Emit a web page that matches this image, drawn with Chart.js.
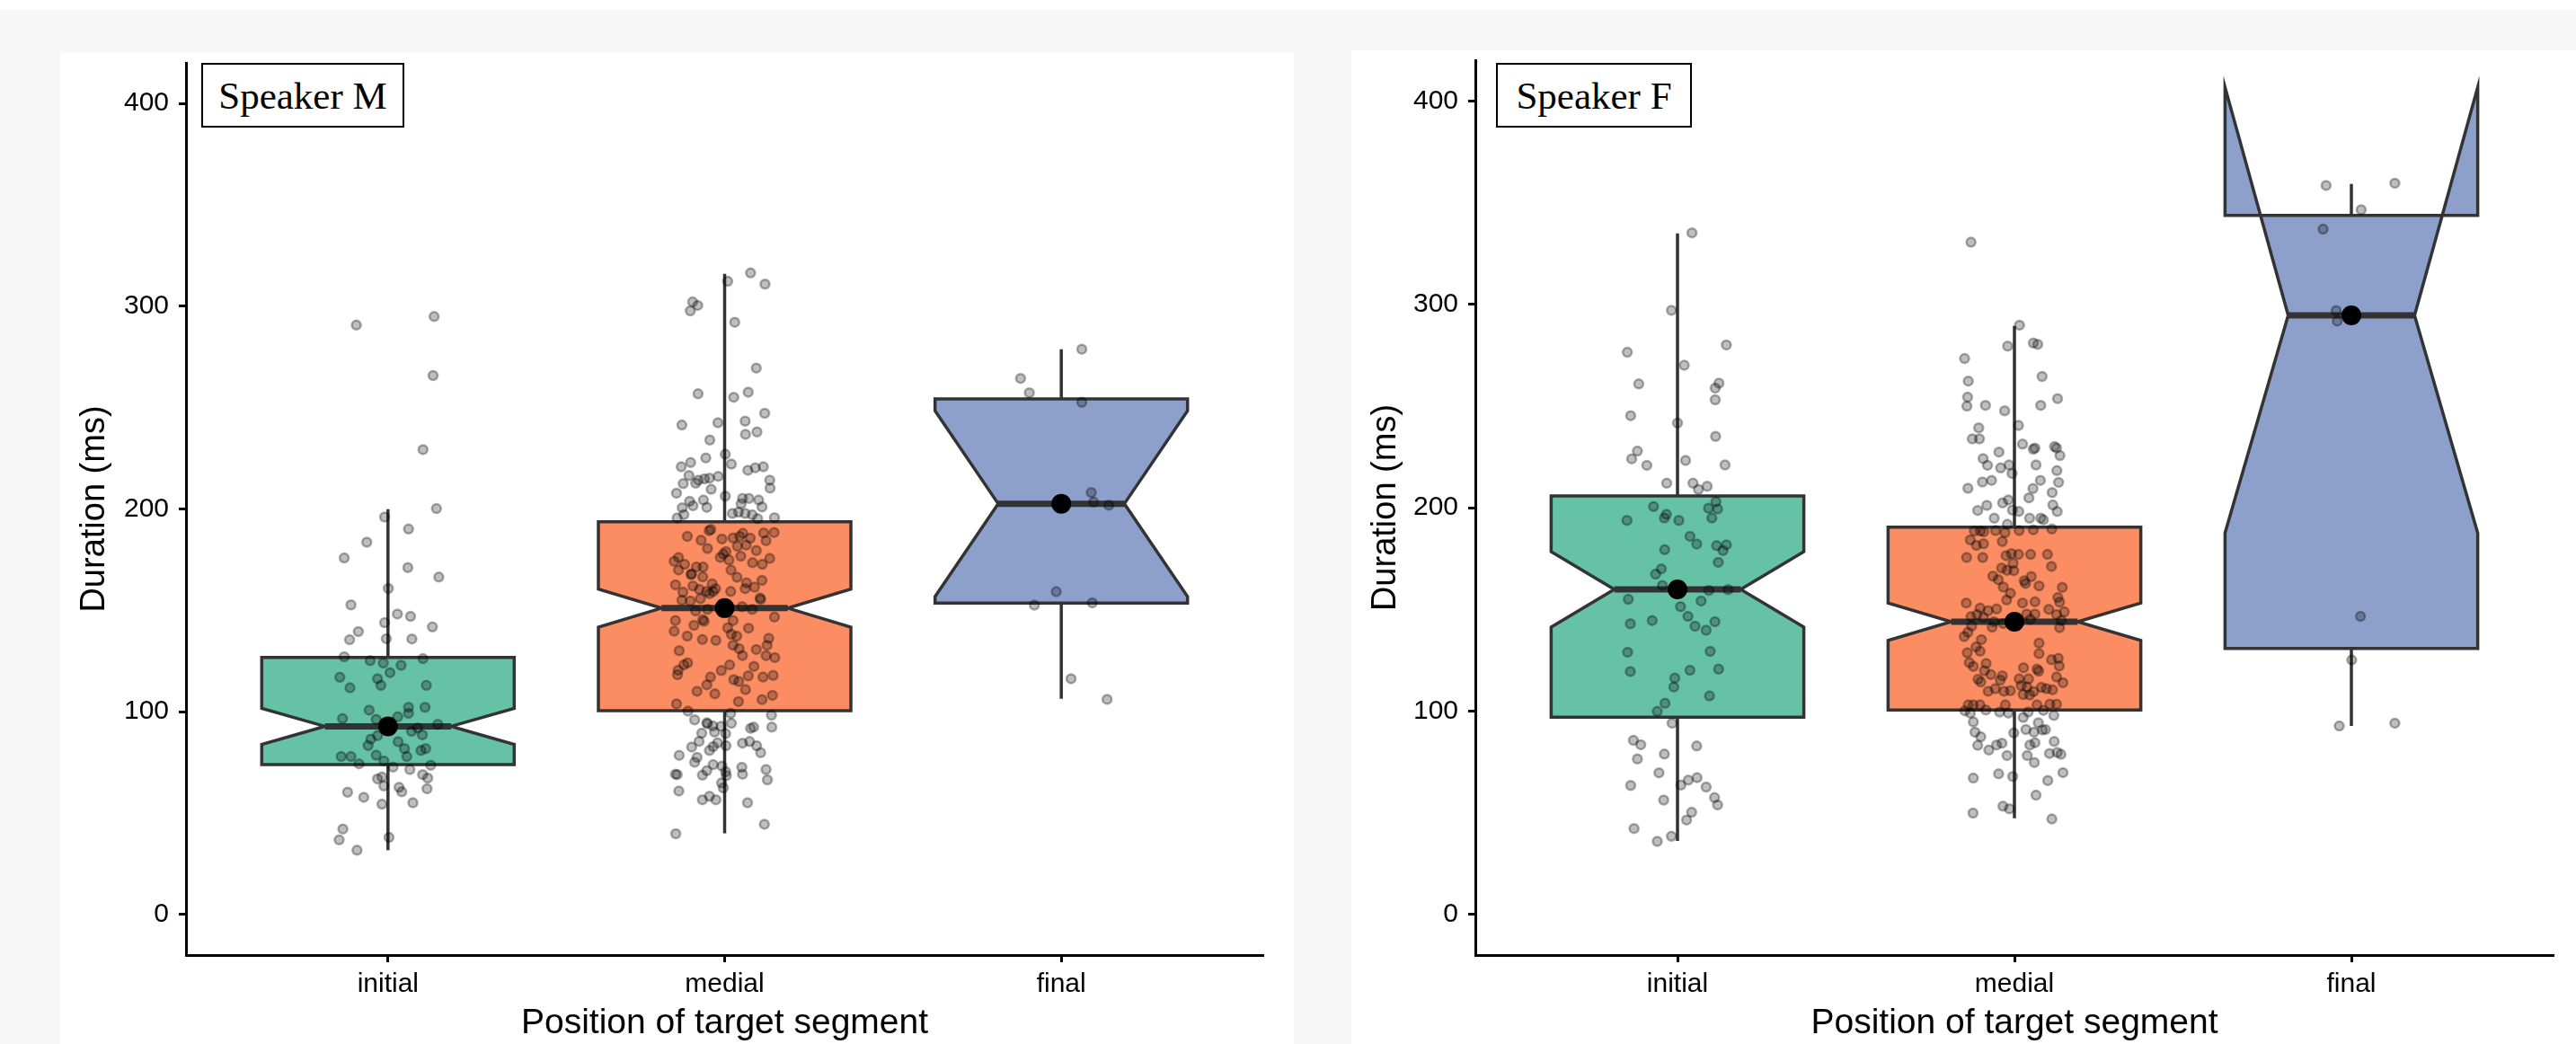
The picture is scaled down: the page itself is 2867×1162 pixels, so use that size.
<!DOCTYPE html>
<html>
<head>
<meta charset="utf-8">
<script src="https://cdn.jsdelivr.net/npm/chart.js@4.4.1/dist/chart.umd.min.js"></script>
<style>
  html, body { margin: 0; padding: 0; }
  body {
    width: 2867px; height: 1162px; overflow: hidden; position: relative;
    background: #f7f7f7;
  }
  .strip { position: absolute; left: 0; top: 0; width: 2867px; height: 11px; background: #fff; }
  .panel { position: absolute; background: #fff; }
  #panelM { left: 67px; top: 59px; width: 1373px; height: 1103px; }
  #panelF { left: 1504px; top: 56px; width: 1363px; height: 1106px; }
  .panel canvas { position: absolute; left: 0; top: 0; }
  .tag {
    position: absolute; box-sizing: border-box; border: 2px solid #000; background: #fff;
    display: flex; align-items: center; justify-content: center;
    font-family: "Liberation Serif", "Times New Roman", serif; font-size: 43px; color: #000;
  }
</style>
</head>
<body>
<div class="strip"></div>
<div class="panel" id="panelM"><canvas id="chartM" width="1373" height="1103"></canvas></div>
<div class="panel" id="panelF"><canvas id="chartF" width="1363" height="1106"></canvas></div>
<div class="tag" style="left:224px; top:70px; width:226px; height:72px;">Speaker M</div>
<div class="tag" style="left:1665px; top:70px; width:218px; height:72px;">Speaker F</div>

<script>
// categories and ticks
const categories = ["initial", "medial", "final"];
const yTicks = [0, 100, 200, 300, 400];

// box stats: [lower whisker, Q1, notch low, median, notch high, Q3, upper whisker]
const boxStatsM = [
  [31.7, 73.9, 83.9, 92.8, 101.7, 126.8, 199.9],
  [40.0, 100.5, 141.7, 151.1, 160.5, 193.7, 316.0],
  [106.4, 153.6, 156.8, 202.6, 248.4, 254.3, 278.8]
];
const boxStatsF = [
  [36.1, 97.0, 141.2, 159.8, 178.4, 205.7, 334.8],
  [47.3, 100.5, 134.7, 143.9, 153.1, 190.4, 289.3],
  [92.6, 130.7, 187.5, 294.5, 406.7, 343.7, 359.1]
];

// jittered observations: [horizontal jitter (category units), duration ms]
const mInitial = [
  [-0.094,290.7],[0.137,294.9],[0.134,265.8],[0.104,229.3],[0.144,200.2],[-0.010,196.0],[0.061,190.1],[-0.063,183.6],
  [-0.130,175.8],[0.059,171.1],[0.151,166.4],[0.001,160.8],[-0.110,152.7],[0.028,148.2],[0.067,147.0],[-0.010,143.9],
  [0.132,141.8],[-0.088,139.5],[-0.114,135.5],[-0.005,136.0],[0.071,135.9],[-0.130,127.1],[-0.053,125.2],[-0.014,124.0],
  [0.006,119.3],[0.039,122.9],[0.104,126.2],[-0.143,117.0],[-0.031,116.3],[-0.021,113.0],[-0.113,111.8],[0.114,113.0],
  [-0.056,100.8],[0.061,102.2],[0.110,102.2],[-0.135,96.6],[-0.035,96.2],[0.061,99.2],[0.029,97.5],[0.148,93.8],
  [0.070,90.3],[0.088,92.0],[0.102,88.6],[-0.051,86.5],[-0.031,88.2],[-0.059,83.3],[0.030,85.2],[0.049,81.8],
  [0.098,80.9],[0.112,81.8],[-0.139,77.9],[-0.110,77.9],[-0.035,78.6],[0.056,77.9],[-0.086,74.3],[-0.012,75.7],
  [0.015,72.7],[0.127,73.6],[0.065,71.5],[-0.031,66.9],[-0.018,67.8],[-0.012,63.4],[0.103,69.0],[0.118,67.3],
  [0.033,62.7],[0.041,60.5],[0.116,62.0],[-0.120,60.3],[-0.072,57.8],[-0.018,54.4],[0.074,55.1],[-0.134,42.2],
  [-0.145,36.8],[0.003,38.0],[-0.092,31.7]
];
const mMedial = [
  [0.009,312.3],[0.077,316.4],[0.120,310.9],[-0.095,302.1],[-0.080,300.4],[-0.102,297.7],[0.030,292.1],[0.094,269.5],
  [-0.079,256.8],[0.027,255.1],[0.070,257.6],[0.119,247.2],[-0.127,241.4],[-0.020,242.5],[0.061,243.3],[0.062,236.8],
  [0.096,238.0],[-0.044,234.0],[0.002,227.0],[-0.101,222.9],[-0.056,225.2],[-0.129,220.8],[0.020,222.1],[-0.106,216.5],
  [-0.078,214.2],[-0.045,215.2],[-0.019,216.1],[0.069,219.1],[0.091,220.3],[0.115,220.8],[-0.123,212.5],[-0.086,212.7],
  [-0.060,214.8],[0.134,214.2],[0.135,210.3],[-0.143,207.8],[-0.040,209.7],[0.002,206.3],[-0.104,203.8],[-0.063,204.4],
  [0.053,205.2],[0.072,205.2],[0.101,204.4],[-0.126,200.6],[-0.094,201.6],[-0.053,200.8],[0.049,202.5],[0.111,201.0],
  [-0.141,195.6],[-0.121,197.2],[0.023,197.8],[0.041,198.4],[0.061,197.8],[0.082,197.1],[0.098,195.2],[0.148,195.7],
  [-0.041,189.9],[-0.046,189.3],[-0.111,186.5],[-0.070,184.6],[-0.008,185.2],[0.025,185.7],[0.045,186.5],[0.054,188.0],
  [0.076,185.6],[0.116,188.2],[0.147,188.4],[-0.051,180.5],[0.004,179.0],[-0.004,177.8],[0.038,181.6],[0.064,182.2],
  [0.094,179.5],[0.123,184.4],[-0.137,176.1],[-0.150,174.2],[-0.119,172.7],[-0.013,176.1],[0.013,174.8],[0.048,176.7],
  [0.083,173.5],[0.112,172.7],[0.134,175.6],[-0.137,169.9],[-0.098,168.0],[-0.064,171.4],[-0.084,171.4],[0.019,169.9],
  [-0.065,166.5],[-0.100,167.6],[-0.037,163.1],[0.037,166.3],[0.065,163.5],[0.111,164.8],[-0.146,162.6],[-0.094,162.0],
  [-0.075,160.3],[-0.054,159.3],[-0.027,160.7],[0.018,159.3],[0.061,160.7],[0.089,161.4],[-0.124,159.0],[-0.127,155.0],
  [-0.102,154.6],[-0.072,155.8],[-0.045,158.2],[-0.034,159.3],[0.105,156.1],[0.107,155.4],[-0.007,152.6],[0.052,151.8],
  [0.082,150.5],[-0.086,149.7],[-0.051,150.5],[-0.061,144.6],[-0.065,145.4],[-0.091,142.6],[-0.146,145.0],[-0.150,139.7],
  [-0.111,137.3],[-0.066,135.6],[-0.026,135.2],[0.009,141.4],[0.025,145.0],[0.071,141.2],[0.148,146.7],[0.020,138.2],
  [0.036,137.3],[0.131,136.2],[0.126,132.8],[-0.135,130.1],[0.025,132.8],[0.043,131.1],[0.053,127.7],[0.094,130.7],
  [0.123,127.7],[0.149,126.7],[-0.121,123.1],[-0.110,124.1],[-0.138,120.5],[-0.140,118.2],[-0.010,120.3],[0.015,123.1],
  [0.087,122.4],[0.114,117.1],[0.144,117.9],[-0.082,110.1],[-0.053,113.3],[-0.042,117.1],[0.027,115.8],[0.042,114.9],
  [0.062,110.9],[0.070,117.7],[-0.029,108.8],[-0.143,103.9],[0.041,105.0],[0.111,106.0],[0.142,108.1],[-0.109,100.3],
  [-0.089,96.0],[-0.053,94.5],[-0.051,94.1],[-0.035,93.0],[0.018,99.2],[0.020,94.3],[0.139,98.3],[0.140,92.4],
  [-0.068,89.4],[-0.030,90.0],[-0.011,92.8],[0.003,89.2],[0.077,91.8],[0.086,92.4],[-0.098,82.6],[-0.076,85.4],
  [-0.045,80.9],[-0.034,82.8],[-0.021,84.7],[0.004,83.2],[0.053,84.5],[0.074,85.3],[0.095,83.2],[0.107,79.8],
  [-0.135,78.5],[-0.089,75.1],[-0.082,77.5],[-0.146,69.2],[-0.141,69.0],[-0.066,68.7],[-0.053,70.9],[-0.034,73.9],
  [-0.008,73.2],[0.003,70.4],[0.005,68.5],[0.051,72.6],[0.053,69.2],[0.123,71.5],[0.127,66.4],[-0.009,64.9],
  [-0.004,62.4],[-0.136,60.9],[-0.066,56.6],[-0.045,58.3],[-0.026,56.6],[0.068,55.1],[0.118,44.5],[-0.145,39.8]
];
const mFinal = [
  [-0.121,264.4],[-0.095,257.3],[0.061,278.8],[0.061,252.6],[0.089,208.1],[0.096,203.4],
  [0.141,201.9],[-0.015,159.2],[-0.080,152.6],[0.092,153.7],[0.029,116.3],[0.136,106.1]
];
const fInitial = [
  [0.043,335.1],[-0.018,297.0],[-0.149,276.4],[0.145,280.0],[0.020,270.0],[-0.115,260.8],[0.123,261.2],[0.112,258.8],
  [0.112,253.0],[-0.139,245.2],[0.000,241.6],[0.113,235.0],[-0.119,227.8],[-0.136,224.0],[-0.091,220.8],[0.024,223.2],
  [0.141,221.0],[-0.032,212.0],[0.046,212.0],[0.062,208.9],[0.088,210.5],[0.114,202.9],[0.092,199.7],[0.119,199.3],
  [-0.071,200.5],[-0.033,196.7],[-0.039,194.9],[0.004,193.7],[0.102,194.9],[-0.150,193.7],[0.037,185.9],[0.057,182.1],
  [0.116,181.3],[0.145,181.7],[0.135,178.9],[-0.038,179.3],[0.121,173.1],[-0.048,169.9],[-0.065,167.3],[-0.045,161.7],
  [0.093,159.3],[0.150,159.7],[-0.146,154.9],[0.070,154.1],[0.009,151.3],[-0.140,142.9],[-0.075,144.5],[0.031,146.5],
  [0.052,141.7],[0.085,139.7],[0.111,143.9],[-0.148,128.9],[0.097,129.3],[-0.140,119.4],[0.037,120.0],[0.122,120.6],
  [-0.008,116.2],[-0.011,111.8],[-0.037,103.8],[-0.060,99.8],[0.095,107.4],[-0.016,94.0],[-0.131,85.6],[-0.109,83.4],
  [-0.119,76.4],[-0.039,78.8],[0.057,82.8],[-0.055,69.6],[-0.139,63.4],[0.010,63.6],[0.032,66.0],[0.058,67.2],
  [0.085,62.6],[-0.041,56.2],[0.110,57.4],[0.119,53.8],[0.042,50.2],[0.027,46.4],[-0.129,42.2],[-0.060,35.9],
  [-0.018,38.4]
];
const fMedial = [
  [-0.129,330.5],[0.015,289.7],[-0.020,279.4],[0.056,280.9],[0.069,280.3],[-0.148,273.3],[0.082,264.5],[-0.137,262.2],
  [-0.139,254.3],[-0.141,249.9],[-0.086,250.3],[-0.029,247.6],[0.078,250.3],[0.128,253.6],[0.012,240.4],[-0.106,239.2],
  [-0.125,233.8],[-0.104,233.8],[0.024,231.2],[-0.046,227.3],[0.056,228.7],[0.061,229.3],[0.119,230.0],[0.125,229.3],
  [0.135,225.6],[-0.093,224.1],[-0.080,220.8],[-0.041,219.5],[-0.016,221.0],[-0.007,216.8],[0.064,221.0],[0.126,218.2],
  [-0.138,209.5],[-0.095,212.6],[-0.068,213.4],[0.055,209.4],[0.077,213.4],[0.112,207.4],[0.131,212.4],[0.043,204.8],
  [-0.035,202.3],[-0.018,203.8],[-0.082,201.1],[-0.109,198.6],[-0.006,198.8],[0.013,198.1],[0.114,201.3],[0.127,198.1],
  [-0.060,194.8],[0.045,194.8],[0.078,194.8],[0.086,194.0],[-0.021,191.8],[-0.119,188.5],[-0.101,188.5],[-0.091,188.1],
  [-0.056,188.7],[-0.028,187.7],[0.014,188.7],[0.056,189.1],[0.111,189.5],[-0.131,184.1],[-0.113,181.4],[-0.092,182.2],
  [-0.036,183.3],[-0.142,175.5],[-0.094,175.5],[-0.025,176.4],[-0.009,177.4],[0.012,177.0],[0.048,177.0],[0.098,177.0],
  [0.110,171.1],[-0.038,170.3],[-0.004,172.6],[-0.022,169.2],[-0.002,169.0],[-0.064,166.3],[-0.048,164.6],[0.029,164.0],
  [0.050,166.1],[0.073,161.5],[-0.033,160.9],[-0.012,157.9],[-0.023,154.6],[0.142,160.8],[0.033,162.7],[0.129,155.8],
  [0.134,153.5],[-0.143,153.1],[0.024,153.1],[0.061,153.7],[0.102,150.0],[-0.102,150.6],[-0.078,149.3],[-0.053,150.2],
  [-0.129,146.4],[-0.111,147.4],[-0.092,146.0],[-0.061,143.9],[-0.033,143.0],[0.036,147.7],[0.061,147.7],[0.047,145.1],
  [0.125,147.4],[0.139,144.5],[0.148,148.7],[-0.149,136.6],[-0.138,138.7],[-0.127,141.8],[-0.098,135.1],[-0.114,131.5],
  [-0.066,141.2],[0.134,141.0],[0.073,133.4],[0.073,128.2],[-0.140,128.6],[-0.102,129.4],[-0.134,123.8],[-0.122,121.9],
  [-0.084,123.4],[-0.089,119.8],[-0.070,117.9],[-0.036,117.3],[0.027,121.3],[0.067,120.6],[0.072,119.6],[0.110,125.2],
  [0.130,125.9],[0.133,122.1],[-0.108,115.6],[-0.100,114.3],[-0.042,115.2],[0.014,115.8],[0.020,112.5],[0.037,111.8],
  [0.042,115.8],[0.125,116.7],[0.144,113.9],[0.080,111.6],[0.095,111.0],[0.113,110.4],[-0.078,109.7],[-0.057,111.0],
  [-0.031,109.7],[-0.012,110.0],[0.026,108.1],[0.045,107.9],[0.057,109.5],[-0.137,103.0],[-0.122,103.0],[-0.102,103.0],
  [-0.027,103.0],[0.067,103.0],[0.105,103.4],[0.125,103.4],[-0.147,100.1],[-0.131,99.0],[-0.085,100.5],[-0.044,99.5],
  [-0.018,99.0],[0.041,99.5],[0.086,100.3],[0.117,97.8],[-0.122,94.6],[0.026,96.8],[0.071,94.2],[-0.117,89.6],
  [-0.100,87.3],[-0.002,89.2],[0.034,90.9],[0.058,89.6],[0.083,90.7],[0.092,90.9],[-0.109,83.1],[-0.076,80.8],
  [-0.053,83.3],[-0.037,84.2],[0.046,83.3],[0.061,84.4],[0.118,85.0],[0.127,79.6],[0.138,78.7],[0.104,79.1],
  [-0.022,78.1],[0.038,78.1],[0.059,74.7],[-0.122,67.0],[-0.047,69.1],[-0.005,67.8],[0.099,65.8],[0.144,69.7],
  [0.064,58.6],[-0.034,53.2],[-0.015,51.9],[-0.123,49.8],[0.111,46.9]
];
const fFinal = [
  [-0.075,358.4],[0.129,359.5],[0.029,346.5],[-0.084,336.9],[-0.045,296.9],
  [-0.042,291.7],[0.027,146.5],[0.001,125.1],[-0.036,92.6],[0.129,94.0]
];

const boxFills = ["#66c2a5", "#fc8d62", "#8da0cb"];
const BOX_WIDTH = 0.75;
const NOTCH_WIDTH = 0.5;

Chart.defaults.font.family = '"Liberation Sans", Arial, Helvetica, sans-serif';
Chart.defaults.color = "#000";

// draws ggplot-style notched boxes under the points
const notchedBoxes = (stats) => ({
  id: "notchedBoxes",
  beforeDatasetsDraw(chart) {
    const { ctx, scales: { x, y } } = chart;
    const X = v => x.getPixelForValue(v);
    const Y = v => y.getPixelForValue(v);
    const half = BOX_WIDTH / 2;
    const inner = half * NOTCH_WIDTH;
    ctx.save();
    ctx.strokeStyle = "#333333";
    ctx.lineJoin = "miter";
    stats.forEach((s, i) => {
      const [lo, q1, nLo, med, nHi, q3, hi] = s;
      const c = i + 1;
      // whiskers
      ctx.lineWidth = 3.5;
      ctx.beginPath();
      ctx.moveTo(X(c), Y(hi)); ctx.lineTo(X(c), Y(q3));
      ctx.moveTo(X(c), Y(q1)); ctx.lineTo(X(c), Y(lo));
      ctx.stroke();
      // notched body
      ctx.beginPath();
      ctx.moveTo(X(c - half), Y(q3));
      ctx.lineTo(X(c - half), Y(nHi));
      ctx.lineTo(X(c - inner), Y(med));
      ctx.lineTo(X(c - half), Y(nLo));
      ctx.lineTo(X(c - half), Y(q1));
      ctx.lineTo(X(c + half), Y(q1));
      ctx.lineTo(X(c + half), Y(nLo));
      ctx.lineTo(X(c + inner), Y(med));
      ctx.lineTo(X(c + half), Y(nHi));
      ctx.lineTo(X(c + half), Y(q3));
      ctx.closePath();
      ctx.fillStyle = boxFills[i];
      ctx.fill();
      ctx.stroke();
      // median
      ctx.lineWidth = 7;
      ctx.beginPath();
      ctx.moveTo(X(c - inner), Y(med));
      ctx.lineTo(X(c + inner), Y(med));
      ctx.stroke();
    });
    ctx.restore();
  }
});

const drawPanel = (canvasId, stats, groups, box) => {
  const points = groups.flatMap((g, i) => g.map(([dx, v]) => ({ x: i + 1 + dx, y: v })));
  const centres = stats.map((s, i) => ({ x: i + 1, y: s[3] }));

  new Chart(document.getElementById(canvasId), {
    type: "scatter",
    data: {
      datasets: [
        {
          data: centres,
          order: 0,
          pointRadius: 11,
          pointBackgroundColor: "#000",
          pointBorderWidth: 0
        },
        {
          data: points,
          order: 1,
          pointRadius: 5,
          pointBackgroundColor: "rgba(0, 0, 0, 0.25)",
          pointBorderColor: "rgba(0, 0, 0, 0.32)",
          pointBorderWidth: 2.5
        }
      ]
    },
    options: {
      responsive: false,
      animation: false,
      events: [],
      layout: { padding: { top: box.top, right: box.right, left: 0, bottom: 0 } },
      plugins: {
        legend: { display: false },
        tooltip: { enabled: false }
      },
      scales: {
        x: {
          type: "linear",
          min: 0.4,
          max: 3.6,
          afterBuildTicks: s => { s.ticks = categories.map((_, i) => ({ value: i + 1 })); },
          afterFit: s => { s.height = box.xAxis; s.paddingLeft = 0; s.paddingRight = 0; },
          border: { display: true, color: "#000", width: 3 },
          grid: { display: true, drawOnChartArea: false, drawTicks: true, tickLength: 8, tickWidth: 3, tickColor: "#000" },
          ticks: {
            callback: v => categories[v - 1],
            padding: 10,
            autoSkip: false,
            maxRotation: 0,
            color: "#000",
            font: { size: 30, lineHeight: 1 }
          },
          title: {
            display: true,
            text: "Position of target segment",
            color: "#000",
            font: { size: 39, lineHeight: 1 },
            padding: { top: 0, bottom: 3 }
          }
        },
        y: {
          min: -20,
          max: 420,
          afterBuildTicks: s => { s.ticks = yTicks.map(v => ({ value: v })); },
          afterFit: s => { s.width = box.yAxis; s.paddingTop = 0; s.paddingBottom = 0; },
          border: { display: true, color: "#000", width: 3 },
          grid: { display: true, drawOnChartArea: false, drawTicks: true, tickLength: 8, tickWidth: 3, tickColor: "#000" },
          ticks: {
            padding: 11,
            color: "#000",
            font: { size: 30, lineHeight: 1 }
          },
          title: {
            display: true,
            text: "Duration (ms)",
            color: "#000",
            font: { size: 38, lineHeight: 1 },
            padding: { top: 20, bottom: 0 }
          }
        }
      }
    },
    plugins: [notchedBoxes(stats)]
  });
};

drawPanel("chartM", boxStatsM, [mInitial, mMedial, mFinal], { top: 7, right: 34, xAxis: 99, yAxis: 140 });
drawPanel("chartF", boxStatsF, [fInitial, fMedial, fFinal], { top: 10, right: 25, xAxis: 99, yAxis: 138 });
</script>
</body>
</html>
